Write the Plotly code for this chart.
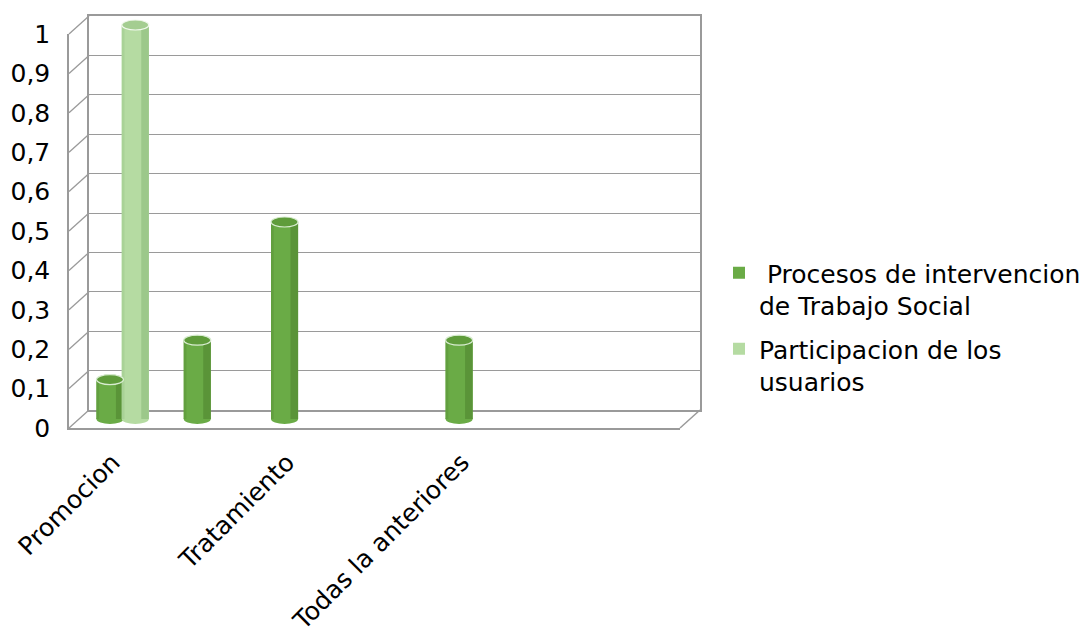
import plotly.graph_objects as go

# ---- data -------------------------------------------------------------
categories = ["Promocion", "", "Tratamiento", "", "Todas la anteriores", "", ""]
procesos = [0.1, 0.2, 0.5, None, 0.2, None, None]
participacion = [1.0, None, None, None, None, None, None]
series_names = [
    "\u00a0Procesos de intervencion<br>de Trabajo Social",
    "Participacion de los<br>usuarios",
]
y_ticks = [i / 10 for i in range(11)]
y_tick_text = ["0", "0,1", "0,2", "0,3", "0,4", "0,5", "0,6", "0,7", "0,8", "0,9", "1"]

# ---- geometry (pixels) ------------------------------------------------
W, H = 1087, 630
FRONT_L, FRONT_R, FRONT_B, FRONT_T = 69, 680, 428, 34
DEPTH_X, DEPTH_Y = 20, 18          # offset of the back wall
PAD = 0.04                          # room for the rounded caps of the cylinders
FONT = "DejaVu Sans"
GRID = "#9a9a9a"


def fx(p):
    return p / W


def fy(p):
    return (H - p) / H


def dom_x(shift):
    return [fx(FRONT_L + shift), fx(FRONT_R + shift)]


def dom_y(shift, pad=0.0):
    span = FRONT_B - FRONT_T
    return [fy(FRONT_B - shift + pad * span), fy(FRONT_T - shift - pad * span)]


n = len(categories)
xs = list(range(n))
BW = 0.31
styles = [
    dict(values=procesos, name=series_names[0], offset=-0.30,
         body="#6aab46", shade="#5a9438", edge="#629f3f", top="#5f9c3b", rim="#d8ecd0"),
    dict(values=participacion, name=series_names[1], offset=-0.01,
         body="#b5dba2", shade="#9cc88a", edge="#a9d297", top="#a4cd91", rim="#f1f8ed"),
]

fig = go.Figure()
shapes = []

# empty traces so the front axes and the back wall get drawn
fig.add_trace(go.Scatter(x=[None], y=[None], xaxis="x", yaxis="y",
                         showlegend=False, hoverinfo="skip"))
fig.add_trace(go.Scatter(x=[None], y=[None], xaxis="x2", yaxis="y2",
                         showlegend=False, hoverinfo="skip"))

for k, s in enumerate(styles):
    vals = s["values"]
    # cylinder body
    fig.add_trace(go.Bar(
        x=xs, y=vals, width=BW, offset=s["offset"], name=s["name"],
        legendgroup=f"g{k}",
        marker=dict(color=s["body"], line=dict(width=0)),
        xaxis="x3", yaxis="y3", hoverinfo="skip",
    ))
    # darker right side for the round look
    fig.add_trace(go.Bar(
        x=xs, y=vals, width=BW * 0.28, offset=s["offset"] + BW * 0.72,
        legendgroup=f"g{k}",
        marker=dict(color=s["shade"], line=dict(width=0)),
        xaxis="x3", yaxis="y3", showlegend=False, hoverinfo="skip",
    ))
    # slightly darker left edge
    fig.add_trace(go.Bar(
        x=xs, y=vals, width=BW * 0.1, offset=s["offset"],
        legendgroup=f"g{k}",
        marker=dict(color=s["edge"], line=dict(width=0)),
        xaxis="x3", yaxis="y3", showlegend=False, hoverinfo="skip",
    ))
    for i, v in enumerate(vals):
        if v is None:
            continue
        x0 = i + s["offset"]
        x1 = x0 + BW
        # rounded base
        shapes.append(dict(type="circle", xref="x3", yref="y3", layer="below",
                           x0=x0, x1=x1, ysizemode="pixel", yanchor=0, y0=-5, y1=5,
                           fillcolor=s["body"], line=dict(width=0)))
        # top cap
        shapes.append(dict(type="circle", xref="x3", yref="y3", layer="above",
                           x0=x0, x1=x1, ysizemode="pixel", yanchor=v, y0=-5, y1=5,
                           fillcolor=s["top"], line=dict(color=s["rim"], width=1.2)))

# side wall: diagonals joining the front axis to the back wall
for v in y_ticks:
    yf = FRONT_B - v * (FRONT_B - FRONT_T)
    shapes.append(dict(type="line", xref="paper", yref="paper", layer="below",
                       x0=fx(FRONT_L), y0=fy(yf),
                       x1=fx(FRONT_L + DEPTH_X), y1=fy(yf - DEPTH_Y),
                       line=dict(color=GRID, width=1.3)))
# floor: right diagonal
shapes.append(dict(type="line", xref="paper", yref="paper", layer="below",
                   x0=fx(FRONT_R), y0=fy(FRONT_B),
                   x1=fx(FRONT_R + DEPTH_X), y1=fy(FRONT_B - DEPTH_Y),
                   line=dict(color=GRID, width=1.5)))

tick_idx = [i for i, c in enumerate(categories) if c]

fig.update_layout(
    width=W, height=H, autosize=False,
    margin=dict(l=0, r=0, t=0, b=0, autoexpand=False),
    paper_bgcolor="white", plot_bgcolor="rgba(0,0,0,0)",
    barmode="overlay", showlegend=True,
    font=dict(family=FONT, color="black"),
    # front axes: tick labels, left edge and floor edge
    xaxis=dict(domain=dom_x(0), range=[-0.5, n - 0.5], anchor="y",
               tickvals=tick_idx, ticktext=[categories[i] for i in tick_idx],
               tickangle=-45, tickfont=dict(size=25), ticks="",
               ticklabelstandoff=8, automargin=False,
               showgrid=False, zeroline=False, showline=True,
               linecolor=GRID, linewidth=1.5),
    yaxis=dict(domain=dom_y(0), range=[0, 1], anchor="x",
               tickvals=y_ticks, ticktext=y_tick_text, tickfont=dict(size=25),
               ticks="", ticklabelstandoff=12, automargin=False,
               showgrid=False, zeroline=False, showline=True,
               linecolor=GRID, linewidth=1.5),
    # back wall with gridlines
    xaxis2=dict(domain=dom_x(DEPTH_X), range=[-0.5, n - 0.5], anchor="y2",
                showticklabels=False, ticks="", showgrid=False, zeroline=False,
                automargin=False,
                showline=True, mirror=True, linecolor=GRID, linewidth=1.5),
    yaxis2=dict(domain=dom_y(DEPTH_Y), range=[0, 1], anchor="x2",
                tickvals=y_ticks, showticklabels=False, ticks="",
                showgrid=True, gridcolor=GRID, gridwidth=1.3, zeroline=False,
                automargin=False,
                showline=True, mirror=True, linecolor=GRID, linewidth=2),
    # mid-depth plane carrying the cylinders
    xaxis3=dict(domain=dom_x(DEPTH_X / 2), range=[-0.5, n - 0.5], anchor="y3",
                visible=False, automargin=False),
    yaxis3=dict(domain=dom_y(DEPTH_Y / 2, PAD), range=[-PAD, 1 + PAD], anchor="x3",
                visible=False, automargin=False),
    legend=dict(x=fx(719), y=fy(250), xanchor="left", yanchor="top",
                valign="top", font=dict(size=25), bgcolor="rgba(0,0,0,0)",
                traceorder="grouped", tracegroupgap=8, itemclick=False),
    shapes=shapes,
)

fig.write_html("out.html")
